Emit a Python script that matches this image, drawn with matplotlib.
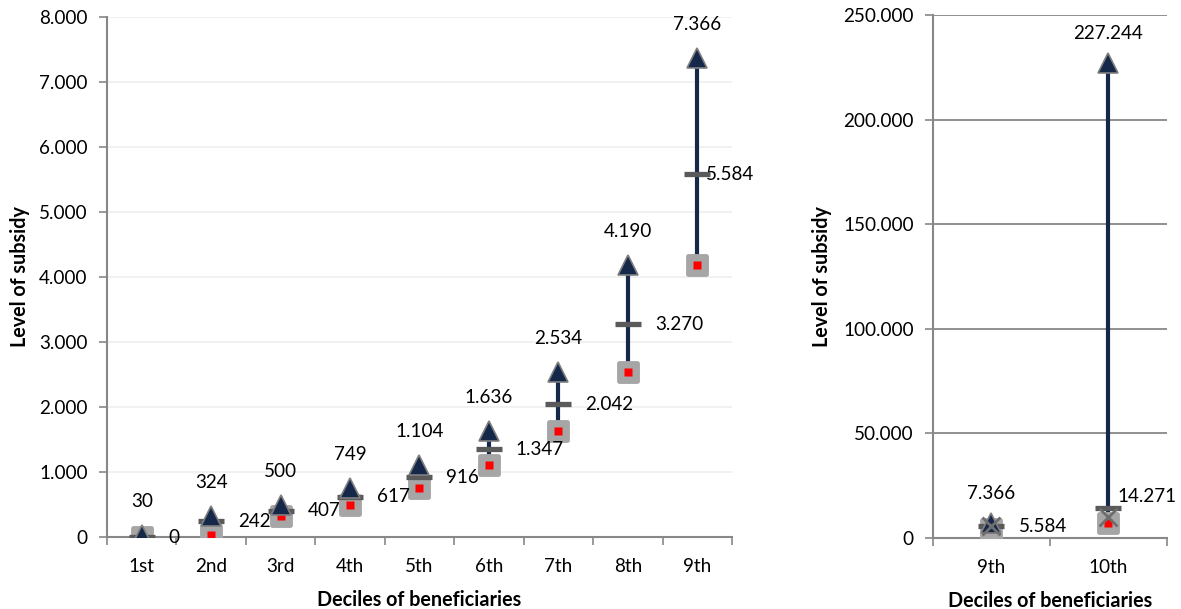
#!/usr/bin/env python3
"""
Subsidy level by decile of beneficiaries: low / median / high per decile,
left panel deciles 1-9, right panel 9th and 10th on a wider scale.
"""

import matplotlib
matplotlib.use("Agg")
import matplotlib.pyplot as plt
from matplotlib.markers import MarkerStyle
from matplotlib.ticker import FuncFormatter, FixedLocator, MultipleLocator
import matplotlib.transforms as mtransforms

plt.rcParams['font.family'] = ['Lato', 'DejaVu Sans']

# --- data -------------------------------------------------------------
deciles_left = ['1st', '2nd', '3rd', '4th', '5th', '6th', '7th', '8th', '9th']
high_left = [30, 324, 500, 749, 1104, 1636, 2534, 4190, 7366]
mid_left = [0, 242, 407, 617, 916, 1347, 2042, 3270, 5584]
low_left = [0, 30, 324, 500, 749, 1104, 1636, 2534, 4190]

deciles_right = ['9th', '10th']
high_right = [7366, 227244]
mid_right = [5584, 14271]
low_right = [4190, 7366]
cross_right = [5900, 10200]

NAVY = '#15284a'
GRAY_SQ = '#a6a6a6'
DASH = '#5a5a5a'
AXIS = '#888888'
FS = 13.6


def thousands(v, pos=None):
    return f"{int(round(v)):,}".replace(',', '.')


def draw_panel(ax, labels, low, mid, high, cross=None):
    x = list(range(len(labels)))
    sq = MarkerStyle('s', joinstyle='round')
    dash = MarkerStyle('_', capstyle='butt')

    ax.vlines(x, low, high, color=NAVY, lw=3, zorder=2)
    ax.plot(x, low, ls='none', marker=sq, ms=13, mfc=GRAY_SQ, mec=GRAY_SQ,
            mew=3.5, zorder=3)
    ax.plot(x, low, ls='none', marker='s', ms=6.3, mfc='red', mec='none', zorder=4)
    ax.plot(x, mid, ls='none', marker=dash, ms=19, mec=DASH, mew=3.8, zorder=6)
    ax.plot(x, high, ls='none', marker='^', ms=14.5, mfc=NAVY, mec='#7f7f7f',
            mew=1.2, zorder=7)
    if cross is not None:
        ax.plot(x, cross, ls='none', marker='x', ms=13, mec='#6e6e6e', mew=2,
                zorder=8)

    ax.set_xlim(-0.5, len(labels) - 0.5)
    ax.set_xticks(x)
    ax.set_xticklabels(labels)
    ax.xaxis.set_minor_locator(FixedLocator([i - 0.5 for i in range(len(labels) + 1)]))
    ax.tick_params(axis='x', which='major', length=0, pad=15, labelsize=FS)
    ax.tick_params(axis='x', which='minor', length=6, color=AXIS, width=1.2)
    ax.tick_params(axis='y', length=6, color=AXIS, width=1.2, pad=8, labelsize=FS)
    ax.yaxis.set_major_formatter(FuncFormatter(thousands))

    for s in ('top', 'right'):
        ax.spines[s].set_visible(False)
    for s in ('left', 'bottom'):
        ax.spines[s].set_color(AXIS)
        ax.spines[s].set_linewidth(1.5)
    ax.set_axisbelow(True)

    ax.set_xlabel('Deciles of beneficiaries', fontweight='bold', fontsize=14.2,
                  labelpad=11)
    ax.set_ylabel('Level of subsidy', fontweight='bold', fontsize=14.2)
    return x


fig = plt.figure(figsize=(11.81, 6.09), dpi=100)

# left panel
ax1 = fig.add_axes([0.0906, 0.1182, 0.5292, 0.8539])
x1 = draw_panel(ax1, deciles_left, low_left, mid_left, high_left)
ax1.set_ylim(0, 8000)
ax1.yaxis.set_major_locator(MultipleLocator(1000))
ax1.grid(axis='y', color='#efefef', lw=1.2)
ax1.yaxis.set_label_coords(-0.124, 0.5)

for i in x1:
    up = mtransforms.offset_copy(ax1.transData, fig=fig, x=0, y=25, units='dots')
    ax1.text(i, high_left[i], thousands(high_left[i]), transform=up,
             ha='center', va='bottom', fontsize=FS)
    dx = 9 if i == x1[-1] else 27
    rt = mtransforms.offset_copy(ax1.transData, fig=fig, x=dx, y=0, units='dots')
    ax1.text(i, mid_left[i], thousands(mid_left[i]), transform=rt,
             ha='left', va='center', fontsize=FS)

# right panel
ax2 = fig.add_axes([0.790, 0.1166, 0.1981, 0.8588])
x2 = draw_panel(ax2, deciles_right, low_right, mid_right, high_right, cross_right)
ax2.set_ylim(0, 250000)
ax2.yaxis.set_major_locator(MultipleLocator(50000))
ax2.grid(axis='y', color=AXIS, lw=1.3)
ax2.yaxis.set_label_coords(-0.43, 0.5)

for i in x2:
    up = mtransforms.offset_copy(ax2.transData, fig=fig, x=0, y=21, units='dots')
    ax2.text(i, high_right[i], thousands(high_right[i]), transform=up,
             ha='center', va='bottom', fontsize=FS)
    dx, dy = (9, 12) if i == x2[-1] else (27, 0)
    rt = mtransforms.offset_copy(ax2.transData, fig=fig, x=dx, y=dy, units='dots')
    ax2.text(i, mid_right[i], thousands(mid_right[i]), transform=rt,
             ha='left', va='center', fontsize=FS)

plt.savefig('out.png', dpi=100)
